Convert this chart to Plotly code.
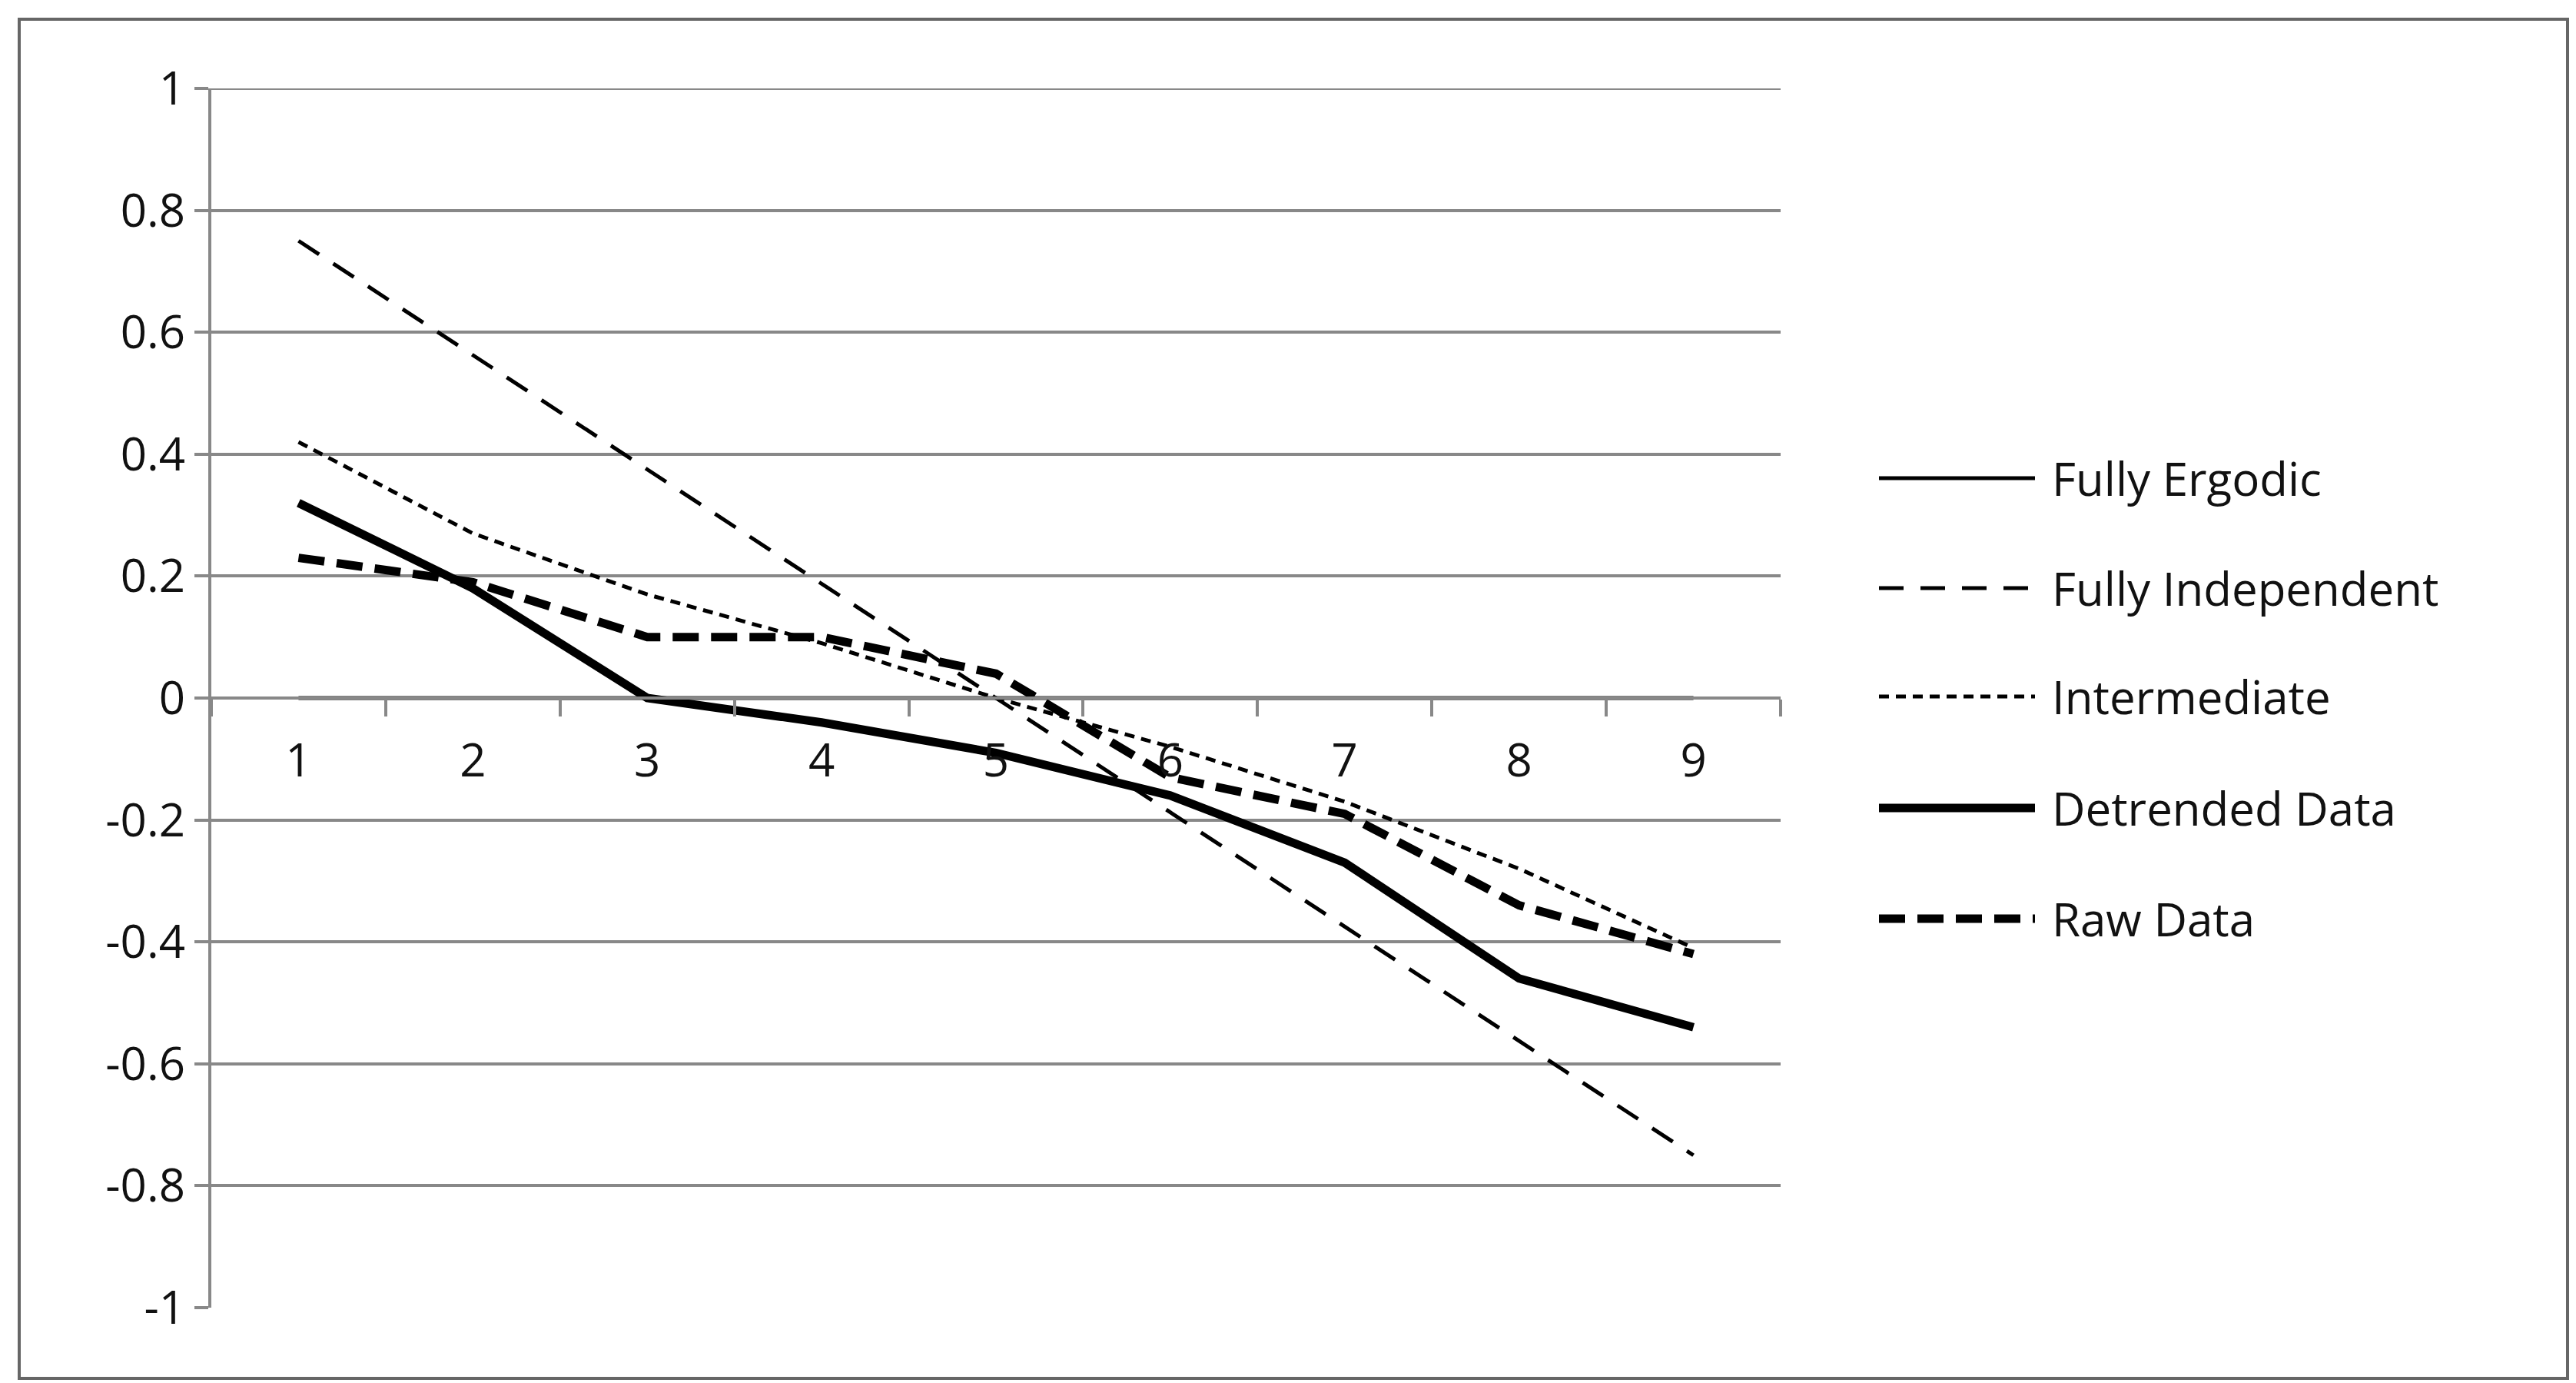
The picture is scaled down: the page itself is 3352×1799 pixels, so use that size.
import plotly.graph_objects as go

x_vals = [1, 2, 3, 4, 5, 6, 7, 8, 9]
x_labels = ["1", "2", "3", "4", "5", "6", "7", "8", "9"]
fully_ergodic = [0, 0, 0, 0, 0, 0, 0, 0, 0]
fully_independent = [0.75, 0.5625, 0.375, 0.1875, 0.0, -0.1875, -0.375, -0.5625, -0.75]
intermediate = [0.42, 0.27, 0.17, 0.09, 0.0, -0.08, -0.17, -0.28, -0.41]
detrended = [0.32, 0.18, 0.0, -0.04, -0.09, -0.16, -0.27, -0.46, -0.54]
raw = [0.23, 0.19, 0.10, 0.10, 0.04, -0.13, -0.19, -0.34, -0.42]
y_ticks = [1, 0.8, 0.6, 0.4, 0.2, 0, -0.2, -0.4, -0.6, -0.8, -1]
y_labels = ["1", "0.8", "0.6", "0.4", "0.2", "0", "-0.2", "-0.4", "-0.6", "-0.8", "-1"]

series = [
    ("Fully Ergodic", fully_ergodic, 5, "solid"),
    ("Fully Independent", fully_independent, 5, "32px,22px"),
    ("Intermediate", intermediate, 5, "13px,9px"),
    ("Detrended Data", detrended, 11, "solid"),
    ("Raw Data", raw, 11, "34px,16px"),
]

W, H = 3352, 1799
L, R, T, B = 267, 2309, 107, 1693
def px(x): return (x - L) / (R - L)
def py(y): return (B - y) / (B - T)

fig = go.Figure()
FONT = "Open Sans"
shapes, annots = [], []
rows = [614, 757, 898, 1043, 1187]
for (name, ys, w, d), ry in zip(series, rows):
    fig.add_trace(go.Scatter(x=x_vals, y=ys, mode="lines", name=name,
                             line=dict(color="black", width=w, dash=d), showlegend=False))
    shapes.append(dict(type="line", xref="paper", yref="paper", x0=px(2437), x1=px(2640),
                       y0=py(ry), y1=py(ry), line=dict(color="black", width=w, dash=d)))
    annots.append(dict(text=name, xref="paper", yref="paper", x=px(2660), y=py(ry),
                       xanchor="left", yanchor="middle", showarrow=False,
                       font=dict(family=FONT, size=60, color="#111")))
shapes.append(dict(type="rect", xref="paper", yref="paper", x0=px(17), x1=px(3333),
                   y0=py(1785), y1=py(17), line=dict(color="#666", width=4)))
shapes.append(dict(type="line", xref="paper", yref="y", x0=0, x1=1, y0=1, y1=1,
                   line=dict(color="#888", width=4), layer="below"))

fig.update_layout(
    width=W, height=H, margin=dict(l=L, r=W - R, t=T, b=H - B),
    plot_bgcolor="white", paper_bgcolor="white",
    shapes=shapes, annotations=annots,
    xaxis=dict(range=[0.5, 9.5], tickvals=x_vals, ticktext=x_labels, ticks="",
               anchor="free", position=0.5, showline=True, linecolor="#888", linewidth=4,
               showgrid=False, zeroline=False, ticklabelstandoff=28,
               tickfont=dict(family=FONT, size=60, color="#111"),
               minor=dict(tickvals=[0.5 + i for i in range(10)], ticks="outside",
                          ticklen=22, tickwidth=4, tickcolor="#888", showgrid=False)),
    yaxis=dict(range=[-1, 1], tickvals=y_ticks, ticktext=y_labels, showgrid=True,
               gridcolor="#888", gridwidth=4, zeroline=False, showline=True,
               linecolor="#888", linewidth=4, ticks="outside", ticklen=18, tickwidth=4,
               tickcolor="#888", tickfont=dict(family=FONT, size=60, color="#111")),
)
fig.write_html("out.html")
